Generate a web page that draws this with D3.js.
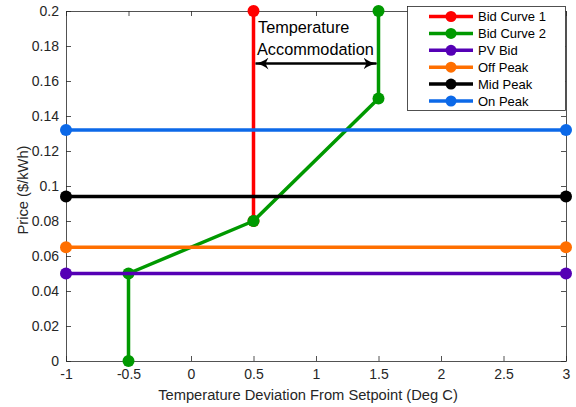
<!DOCTYPE html>
<html>
<head>
<meta charset="utf-8">
<script src="https://cdn.jsdelivr.net/npm/d3@7"></script>
<style>
  body { margin: 0; background: #fff; }
  text { font-family: "Liberation Sans", Arial, sans-serif; }
</style>
</head>
<body>
<svg width="576" height="407"></svg>
<script>
// series data
const bidCurve1 = [[0.5, 0.08], [0.5, 0.2]];
const bidCurve2 = [[-0.5, 0], [-0.5, 0.05], [0.5, 0.08], [1.5, 0.15], [1.5, 0.2]];
const pvBid = [[-1, 0.05], [3, 0.05]];
const offPeak = [[-1, 0.065], [3, 0.065]];
const midPeak = [[-1, 0.094], [3, 0.094]];
const onPeak = [[-1, 0.132], [3, 0.132]];

const seriesNames = ["Bid Curve 1", "Bid Curve 2", "PV Bid", "Off Peak", "Mid Peak", "On Peak"];
const seriesColors = ["#ff0000", "#009900", "#5500b5", "#ff6f00", "#000000", "#0c69e8"];
const seriesData = [bidCurve1, bidCurve2, pvBid, offPeak, midPeak, onPeak];

const xTicks = [-1, -0.5, 0, 0.5, 1, 1.5, 2, 2.5, 3];
const yTicks = [0, 0.02, 0.04, 0.06, 0.08, 0.1, 0.12, 0.14, 0.16, 0.18, 0.2];

// annotation: arrow between the two bid curves
const arrowX = [0.5, 1.5];
const arrowY = 0.17;

const svg = d3.select("svg");
const L = 66, R = 566, T = 11, B = 361;

const x = d3.scaleLinear().domain([-1, 3]).range([L, R]);
const y = d3.scaleLinear().domain([0, 0.2]).range([B, T]);

const axisColor = "#262626";

// axes with inward ticks (box on)
const fmt = d => String(+d.toFixed(2));
const gx = svg.append("g").attr("transform", `translate(0,${B})`)
  .call(d3.axisBottom(x).tickValues(xTicks).tickFormat(fmt).tickSizeInner(-5).tickSizeOuter(0).tickPadding(8));
const gy = svg.append("g").attr("transform", `translate(${L},0)`)
  .call(d3.axisLeft(y).tickValues(yTicks).tickFormat(fmt).tickSizeInner(-5).tickSizeOuter(0).tickPadding(7));
const gxt = svg.append("g").attr("transform", `translate(0,${T})`)
  .call(d3.axisTop(x).tickValues(xTicks).tickFormat("").tickSizeInner(-5).tickSizeOuter(0));
const gyr = svg.append("g").attr("transform", `translate(${R},0)`)
  .call(d3.axisRight(y).tickValues(yTicks).tickFormat("").tickSizeInner(-5).tickSizeOuter(0));

[gx, gy, gxt, gyr].forEach(g => {
  g.selectAll("path, line").attr("stroke", axisColor).attr("stroke-width", 0.8);
  g.selectAll("text").attr("fill", axisColor).style("font-size", "14px");
});

// axis labels
svg.append("text").attr("x", (L + R) / 2 - 8).attr("y", 400).attr("text-anchor", "middle")
  .attr("fill", axisColor).style("font-size", "14.7px")
  .text("Temperature Deviation From Setpoint (Deg C)");
svg.append("text").attr("transform", `translate(28,${(T + B) / 2 + 4}) rotate(-90)`)
  .attr("text-anchor", "middle").attr("fill", axisColor).style("font-size", "14.7px")
  .text("Price ($/kWh)");

// series lines + markers
const line = d3.line().x(d => x(d[0])).y(d => y(d[1]));
seriesData.forEach((data, i) => {
  const g = svg.append("g");
  g.append("path").attr("d", line(data)).attr("fill", "none")
    .attr("stroke", seriesColors[i]).attr("stroke-width", 3.5).attr("stroke-linejoin", "round");
  g.selectAll("circle").data(data).enter().append("circle")
    .attr("cx", d => x(d[0])).attr("cy", d => y(d[1])).attr("r", 6)
    .attr("fill", seriesColors[i]);
});

// annotation
svg.append("defs").append("marker").attr("id", "ah").attr("viewBox", "0 0 14 12")
  .attr("refX", 13).attr("refY", 6).attr("markerWidth", 14).attr("markerHeight", 12)
  .attr("markerUnits", "userSpaceOnUse").attr("orient", "auto-start-reverse")
  .append("path").attr("d", "M0,0 Q6,5 14,6 Q6,7 0,12 L3,6 Z").attr("fill", "#000");
svg.append("line")
  .attr("x1", x(arrowX[0]) + 2).attr("x2", x(arrowX[1]) - 2)
  .attr("y1", y(arrowY)).attr("y2", y(arrowY))
  .attr("stroke", "#000").attr("stroke-width", 2.5)
  .attr("marker-start", "url(#ah)").attr("marker-end", "url(#ah)");
svg.append("text").attr("x", 258).attr("y", 33).style("font-size", "16.3px").text("Temperature");
svg.append("text").attr("x", 257).attr("y", 55).style("font-size", "16.3px").text("Accommodation");

// legend
const lg = svg.append("g");
lg.append("rect").attr("x", 407.5).attr("y", 6.5).attr("width", 158).attr("height", 104)
  .attr("fill", "#fff").attr("stroke", axisColor).attr("stroke-width", 0.8);
seriesNames.forEach((name, i) => {
  const yy = 16.5 + i * 16.9;
  lg.append("line").attr("x1", 429).attr("x2", 473).attr("y1", yy).attr("y2", yy)
    .attr("stroke", seriesColors[i]).attr("stroke-width", 3.5);
  lg.append("circle").attr("cx", 451).attr("cy", yy).attr("r", 5.5).attr("fill", seriesColors[i]);
  lg.append("text").attr("x", 478).attr("y", yy + 4.5).style("font-size", "13px")
    .attr("fill", "#000").text(name);
});
</script>
</body>
</html>
